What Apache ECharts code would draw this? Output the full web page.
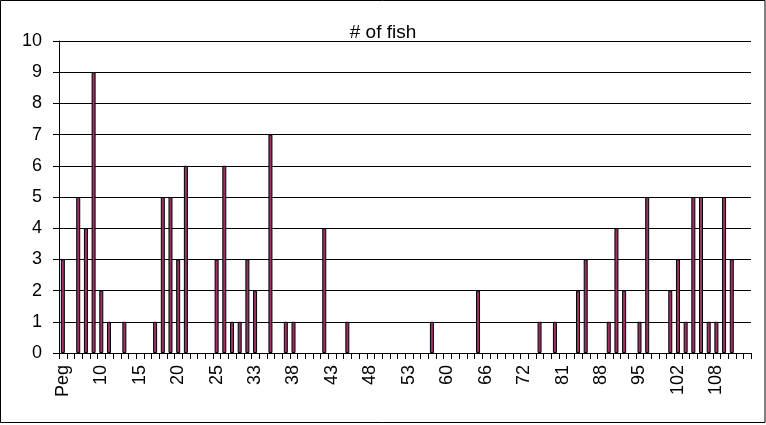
<!DOCTYPE html>
<html>
<head>
<meta charset="utf-8">
<script src="https://cdn.jsdelivr.net/npm/echarts@6/dist/echarts.min.js"></script>
<style>
  html, body { margin: 0; padding: 0; background: #fff; }
  #fishChart { width: 766px; height: 425px; }
</style>
</head>
<body>
<div id="fishChart"></div>
<script>
// peg numbers along the bottom (only every 5th is labelled)
const pegs = ['Peg', '6', '7', '8', '9', '10', '11', '12', '13', '14',
  '15', '16', '17', '18', '19', '20', '21', '22', '23', '24',
  '25', '27', '29', '30', '31', '33', '34', '35', '36', '37',
  '38', '39', '40', '41', '42', '43', '44', '45', '46', '47',
  '48', '49', '50', '51', '52', '53', '54', '56', '57', '59',
  '60', '61', '62', '64', '65', '66', '67', '68', '70', '71',
  '72', '74', '76', '78', '80', '81', '83', '84', '85', '87',
  '88', '89', '90', '91', '93', '95', '96', '98', '99', '100',
  '102', '103', '104', '105', '106', '108', '109', '110', '111', '112'];

// # of fish per peg
const fish = [3, 0, 5, 4, 9, 2, 1, 0, 1, 0,
  0, 0, 1, 5, 5, 3, 6, 0, 0, 0,
  3, 6, 1, 1, 3, 2, 0, 7, 0, 1,
  1, 0, 0, 0, 4, 0, 0, 1, 0, 0,
  0, 0, 0, 0, 0, 0, 0, 0, 1, 0,
  0, 0, 0, 0, 2, 0, 0, 0, 0, 0,
  0, 0, 1, 0, 1, 0, 0, 2, 3, 0,
  0, 1, 4, 2, 0, 1, 5, 0, 0, 2,
  3, 1, 5, 5, 1, 1, 5, 3, 0, 0];

const yTicks = [0, 1, 2, 3, 4, 5, 6, 7, 8, 9, 10];

const chart = echarts.init(document.getElementById('fishChart'));
const font = 'Liberation Sans, Arial, sans-serif';

// small tick between pegs, positioned through the category axis scale
function pegTick(params, api) {
  const idx = params.dataIndex;
  const pt = api.coord([idx, 0]);
  const half = api.size([1, 0])[0] / 2;
  const xs = [pt[0] - half];
  if (idx === pegs.length - 1) xs.push(pt[0] + half);
  return {
    type: 'group',
    children: xs.map(x => ({
      type: 'rect',
      shape: { x: Math.round(x), y: Math.round(pt[1]), width: 1, height: 6 },
      style: { fill: '#000' }
    }))
  };
}

chart.setOption({
  animation: false,
  backgroundColor: '#fff',
  title: {
    text: '# of fish',
    left: 'center',
    top: 18,
    textStyle: { fontFamily: font, fontSize: 19, fontWeight: 'normal', color: '#000' }
  },
  graphic: [{
    type: 'rect',
    shape: { x: 0.5, y: 0.5, width: 764.5, height: 422 },
    style: { fill: 'none', stroke: '#000', lineWidth: 1 },
    silent: true
  }],
  grid: { left: 59, right: 15, top: 41, bottom: 72 },
  xAxis: {
    type: 'category',
    data: pegs,
    axisLine: { show: true, lineStyle: { color: '#000', width: 1 } },
    axisTick: { show: false },
    axisLabel: {
      interval: 4,
      rotate: 90,
      margin: 12,
      fontFamily: font,
      fontSize: 18,
      color: '#000'
    },
    splitLine: { show: false }
  },
  yAxis: {
    type: 'value',
    min: yTicks[0],
    max: yTicks[yTicks.length - 1],
    interval: 1,
    axisLine: { show: true, lineStyle: { color: '#000', width: 1 } },
    axisTick: { show: true, length: 6, lineStyle: { color: '#000' } },
    axisLabel: { margin: 17, fontFamily: font, fontSize: 18, color: '#000' },
    splitLine: { lineStyle: { color: '#000', width: 1 } }
  },
  series: [{
    type: 'bar',
    // empty pegs get no bar at all
    data: fish.map(v => (v === 0 ? null : v)),
    barWidth: 4,
    itemStyle: { color: '#993366', borderColor: '#000', borderWidth: 1 }
  }, {
    type: 'custom',
    silent: true,
    clip: false,
    z: 10,
    renderItem: pegTick,
    data: fish.map(() => 0)
  }]
});
</script>
</body>
</html>
